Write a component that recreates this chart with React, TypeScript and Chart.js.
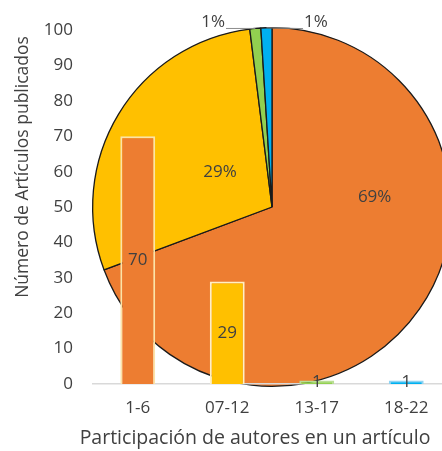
import React, { useEffect, useRef } from "react";
import { Chart, registerables } from "chart.js";

Chart.register(...registerables);

// ---- data ----
const categories: string[] = ["1-6", "07-12", "13-17", "18-22"];
const articleCounts: number[] = [70, 29, 1, 1];
const yTickStep = 10;
const yMin = 0;
const yMax = 100;
const xTitle = "Participación de autores en un artículo";
const yTitle = "Número de Artículos publicados";

// ---- style ----
const sliceColors = ["#ED7D31", "#FFC000", "#92D050", "#00B0F0"];
const barBorderColors = ["#FBE3A8", "#FFF0C4", "#B9DD95", "#8FD3F3"];
const textColor = "#404040";
const FONT = "'Open Sans', 'DejaVu Sans', sans-serif";
// label placement for pie percentages: angle (deg clockwise from 12 o'clock), radius fraction
const pieLabelAngle = [84.5, 304, 342.3, 13.4];
const pieLabelRadius = [0.575, 0.35, 1.08, 1.057];

const pieLabelPlugin = {
  id: "pieLabels",
  afterDatasetsDraw(chart: any) {
    const ctx: CanvasRenderingContext2D = chart.ctx;
    const meta = chart.getDatasetMeta(0);
    const total = articleCounts.reduce((a, b) => a + b, 0);
    ctx.save();
    ctx.font = `17px ${FONT}`;
    ctx.fillStyle = textColor;
    ctx.textAlign = "center";
    ctx.textBaseline = "middle";
    meta.data.forEach((arc: any, i: number) => {
      const p = arc.getProps(["x", "y", "outerRadius", "startAngle", "endAngle"], true);
      const a = ((pieLabelAngle[i] - 90) * Math.PI) / 180;
      const r = pieLabelRadius[i] * p.outerRadius;
      const lx = p.x + r * Math.cos(a);
      const ly = p.y + r * Math.sin(a);
      const text = Math.round((articleCounts[i] / total) * 100) + "%";
      ctx.fillText(text, lx, ly);
      if (pieLabelRadius[i] > 1) {
        const mid = (p.startAngle + p.endAngle) / 2;
        const px = p.x + p.outerRadius * Math.cos(mid);
        const py = p.y + p.outerRadius * Math.sin(mid);
        const w = ctx.measureText(text).width;
        const ex = lx < px ? lx + w / 2 + 1 : lx - w / 2 - 1;
        ctx.strokeStyle = "#8c8c8c";
        ctx.lineWidth = 1;
        ctx.beginPath();
        ctx.moveTo(ex, ly + 6);
        ctx.lineTo(px, py);
        ctx.stroke();
      }
    });
    ctx.restore();
  },
};

const barLabelPlugin = {
  id: "barLabels",
  afterDatasetsDraw(chart: any) {
    const ctx: CanvasRenderingContext2D = chart.ctx;
    const meta = chart.getDatasetMeta(0);
    ctx.save();
    ctx.font = `17px ${FONT}`;
    ctx.fillStyle = textColor;
    ctx.textAlign = "center";
    ctx.textBaseline = "middle";
    meta.data.forEach((bar: any, i: number) => {
      const p = bar.getProps(["x", "y", "base"], true);
      ctx.fillText(String(articleCounts[i]), p.x, (p.y + p.base) / 2);
    });
    ctx.restore();
  },
};

const axisTitlePlugin = {
  id: "axisTitles",
  afterDraw(chart: any) {
    const ctx: CanvasRenderingContext2D = chart.ctx;
    ctx.save();
    ctx.fillStyle = textColor;
    ctx.textAlign = "center";
    ctx.textBaseline = "middle";
    ctx.font = `19.5px ${FONT}`;
    ctx.fillText(xTitle, 255, 438);
    ctx.translate(23, 167);
    ctx.rotate(-Math.PI / 2);
    ctx.font = `17.5px ${FONT}`;
    ctx.fillText(yTitle, 0, 0);
    ctx.restore();
  },
};

export default function App() {
  const pieRef = useRef<HTMLCanvasElement>(null);
  const barRef = useRef<HTMLCanvasElement>(null);

  useEffect(() => {
    const pie = new Chart(pieRef.current as HTMLCanvasElement, {
      type: "pie",
      data: {
        labels: categories,
        datasets: [
          {
            data: articleCounts,
            backgroundColor: sliceColors,
            borderColor: "#1a1a1a",
            borderWidth: 1.3,
          },
        ],
      },
      options: {
        responsive: false,
        animation: false,
        devicePixelRatio: 1,
        layout: { padding: { left: 92, right: 8, top: 27, bottom: 64 } },
        plugins: { legend: { display: false }, tooltip: { enabled: false } },
      },
      plugins: [pieLabelPlugin],
    } as any);

    const bar = new Chart(barRef.current as HTMLCanvasElement, {
      type: "bar",
      data: {
        labels: categories,
        datasets: [
          {
            data: articleCounts,
            backgroundColor: sliceColors,
            borderColor: barBorderColors,
            borderWidth: 2,
            barPercentage: 0.39,
            categoryPercentage: 1,
          },
        ],
      },
      options: {
        responsive: false,
        animation: false,
        devicePixelRatio: 1,
        layout: { padding: { left: 0, right: 9, top: 24, bottom: 0 } },
        plugins: { legend: { display: false }, tooltip: { enabled: false } },
        scales: {
          x: {
            grid: { display: false, drawTicks: false },
            border: { display: true, color: "#D9D9D9", width: 1.5 },
            ticks: { padding: 14, color: textColor, font: { family: FONT, size: 17 } },
            afterFit(s: any) {
              s.height = 67;
            },
          },
          y: {
            min: yMin,
            max: yMax,
            grid: { display: false, drawTicks: false },
            border: { display: false },
            ticks: { stepSize: yTickStep, padding: 20, color: textColor, font: { family: FONT, size: 17 } },
            afterFit(s: any) {
              s.width = 93;
            },
          },
        },
      },
      plugins: [barLabelPlugin, axisTitlePlugin],
    } as any);

    return () => {
      pie.destroy();
      bar.destroy();
    };
  }, []);

  return (
    <div
      style={{
        position: "fixed",
        left: 0,
        top: 0,
        width: 442,
        height: 451,
        overflow: "hidden",
        background: "#ffffff",
      }}
    >
      <canvas ref={pieRef} width={460} height={451} style={{ position: "absolute", left: 0, top: 0 }} />
      <canvas ref={barRef} width={460} height={451} style={{ position: "absolute", left: 0, top: 0 }} />
    </div>
  );
}
